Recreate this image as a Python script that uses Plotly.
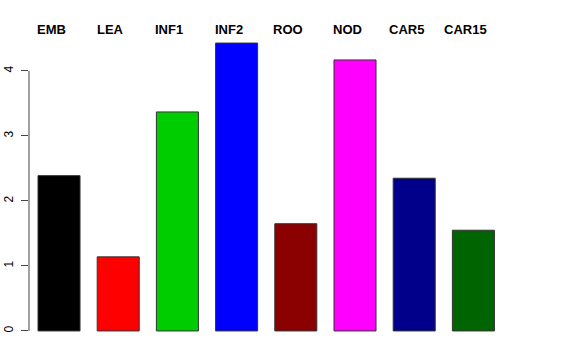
import plotly.graph_objects as go

categories = ["EMB", "LEA", "INF1", "INF2", "ROO", "NOD", "CAR5", "CAR15"]
values = [2.39, 1.14, 3.37, 4.43, 1.65, 4.17, 2.35, 1.55]
colors = ["#000000", "#FF0000", "#00CD00", "#0000FF", "#8B0000", "#FF00FF", "#00008B", "#006400"]
ytick_vals = [0, 1, 2, 3, 4]

fig = go.Figure()
fig.add_trace(go.Bar(
    x=categories, y=values,
    marker=dict(color=colors, line=dict(color="#333333", width=1)),
    hoverinfo="skip",
))

for c in categories:
    fig.add_annotation(
        x=c, y=1, xref="x", yref="paper", text="<b>%s</b>" % c,
        showarrow=False, yanchor="middle", xanchor="center",
        xshift=-8, yshift=2.5,
        font=dict(family="Liberation Sans, Arial, sans-serif", size=13, color="black"),
    )

fig.add_shape(type="line", xref="paper", yref="y", x0=0, x1=0,
              y0=ytick_vals[0], y1=ytick_vals[-1],
              line=dict(color="#444444", width=1))

fig.update_layout(
    width=576, height=360,
    margin=dict(l=29, r=73, t=32, b=18, autoexpand=False),
    plot_bgcolor="white", paper_bgcolor="white",
    bargap=0.29, showlegend=False,
    font=dict(family="Liberation Sans, Arial, sans-serif", color="black"),
)
fig.update_xaxes(range=[-0.507, 7.5], showticklabels=False, showline=False,
                 showgrid=False, zeroline=False, ticks="", automargin=False)
fig.update_yaxes(range=[-0.17, 4.6], tickvals=ytick_vals, ticks="outside",
                 ticklen=7, tickcolor="#444444", tickwidth=1, tickangle=-90,
                 ticklabelstandoff=3, tickfont=dict(size=12, color="black"),
                 showline=False, showgrid=False, zeroline=False, automargin=False)

fig.write_html("out.html", config={"displayModeBar": False},
               post_script="document.body.style.margin='0';document.body.style.padding='0';")
